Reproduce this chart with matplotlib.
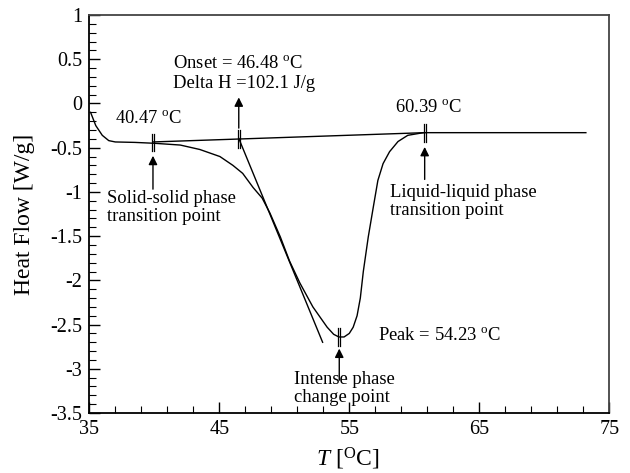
import matplotlib
matplotlib.use("Agg")
import matplotlib.pyplot as plt
from matplotlib.ticker import FixedLocator
import numpy as np

plt.rcParams['font.family'] = ['Liberation Serif', 'DejaVu Serif']
plt.rcParams['mathtext.fontset'] = 'custom'
plt.rcParams['mathtext.rm'] = 'Liberation Serif'
plt.rcParams['mathtext.it'] = 'Liberation Serif:italic'

# DSC curve
temp = [35.1, 35.5, 36.0, 36.5, 37.0, 38.5, 40.0, 42.0, 43.5, 45.05, 46.05, 46.8,
        47.6, 48.3, 48.9, 49.7, 50.4, 51.2, 52.2, 53.3, 53.8, 54.2, 54.6, 55.0,
        55.3, 55.6, 55.85, 56.08, 56.46, 56.85, 57.2, 57.6, 58.1, 58.75, 59.5,
        60.7, 73.2]
heat = [-0.10, -0.25, -0.36, -0.42, -0.435, -0.44, -0.45, -0.47, -0.52, -0.60,
        -0.70, -0.79, -0.95, -1.07, -1.24, -1.51, -1.78, -2.03, -2.30, -2.53,
        -2.61, -2.64, -2.64, -2.60, -2.53, -2.40, -2.20, -1.90, -1.51, -1.17,
        -0.87, -0.68, -0.545, -0.43, -0.36, -0.33, -0.33]

# baseline and onset tangent
base_t = [39.9, 60.8]
base_h = [-0.435, -0.33]
tang_t = [46.5, 52.95]
tang_h = [-0.395, -2.70]

# marked points
marks_t = [39.9, 46.5, 54.23, 60.8]
marks_h = [-0.44, -0.40, -2.64, -0.33]

fig = plt.figure(figsize=(6.3, 4.73), dpi=100)
ax = fig.add_axes([0.1417, 0.1268, 0.8254, 0.8414])

ax.plot(temp, heat, color='black', lw=1.0)
ax.plot(base_t, base_h, color='black', lw=1.0)
ax.plot(tang_t, tang_h, color='black', lw=1.0)

# double tick marks
for t, h in zip(marks_t, marks_h):
    for dx in (-0.09, 0.09):
        ax.plot([t + dx, t + dx], [h - 0.1, h + 0.1], color='black', lw=0.9)

arr = dict(arrowstyle='-|>', color='black', lw=1.0, mutation_scale=13)
ax.annotate('', xy=(marks_t[0], -0.56), xytext=(marks_t[0], -1.0), arrowprops=arr)
ax.annotate('', xy=(marks_t[1], 0.10), xytext=(marks_t[1], -0.31), arrowprops=arr)
ax.annotate('', xy=(marks_t[2], -2.74), xytext=(marks_t[2], -3.16), arrowprops=arr)
ax.annotate('', xy=(marks_t[3], -0.46), xytext=(marks_t[3], -0.89), arrowprops=arr)

fs = 13.4
ax.text(36.98, -0.165, '40.47 $^{\\rm o}$C', fontsize=fs, va='center')
ax.text(41.44, 0.457, 'Onset = 46.48 $^{\\rm o}$C', fontsize=fs, va='center')
ax.text(41.44, 0.231, 'Delta H =102.1 J/g', fontsize=fs, va='center')
ax.text(58.5, -0.04, '60.39 $^{\\rm o}$C', fontsize=fs, va='center')
ax.text(36.36, -0.98, 'Solid-solid phase\ntransition point', fontsize=fs,
        va='top', linespacing=1.05)
ax.text(58.13, -0.91, 'Liquid-liquid phase\ntransition point', fontsize=fs,
        va='top', linespacing=1.05)
ax.text(57.2, -2.62, 'Peak = 54.23 $^{\\rm o}$C', fontsize=fs, va='center')
ax.text(50.75, -3.03, 'Intense phase\nchange point', fontsize=fs,
        va='top', linespacing=1.05)

ax.set_xlim(35, 75)
ax.set_ylim(-3.5, 1)
ax.set_xticks([35, 45, 55, 65, 75])
ax.xaxis.set_minor_locator(FixedLocator(np.arange(37, 75, 2)))
ax.set_yticks(np.arange(-3.5, 1.01, 0.5))
ax.set_yticklabels(['-3.5', '-3', '-2.5', '-2', '-1.5', '-1', '-0.5', '0', '0.5', '1'])
ax.yaxis.set_minor_locator(FixedLocator(np.arange(-3.5, 1.0, 0.1)))
ax.tick_params(which='both', direction='in', top=False, right=False,
               labelsize=14.5)
ax.tick_params(which='major', length=8, width=1.0, pad=5)
ax.tick_params(which='minor', length=5, width=0.8)
for s in ax.spines.values():
    s.set_linewidth(1.3)
ax.spines['top'].set_color('#444444')
ax.spines['right'].set_color('#444444')

ax.set_xlabel('$T$ [$^{\\rm O}$C]', fontsize=17)
ax.set_ylabel('Heat Flow [W/g]', fontsize=17)
ax.xaxis.set_label_coords(0.497, -0.115)
ax.xaxis.label.set_va('center')
ax.yaxis.set_label_coords(-0.124, 0.5)
ax.yaxis.label.set_va('center')

fig.savefig('out.png', dpi=100)
